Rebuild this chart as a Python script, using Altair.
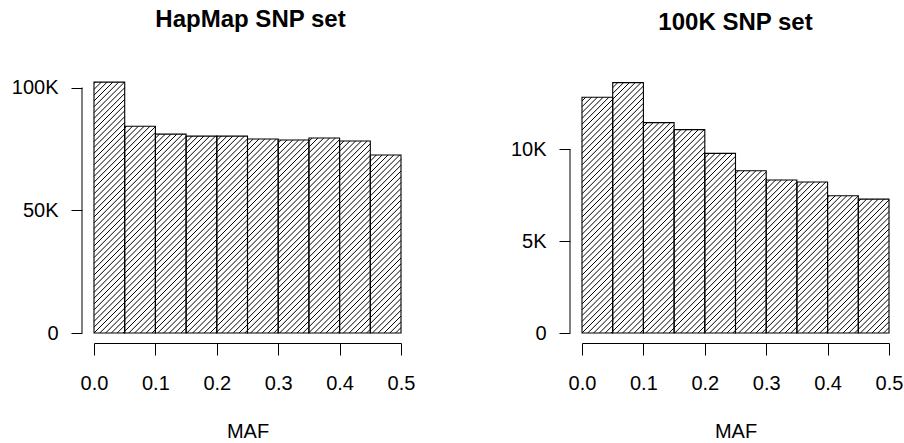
import altair as alt
import pandas as pd

# Histogram bins of minor allele frequency (MAF), width 0.05
bin_edges = [0.0, 0.05, 0.10, 0.15, 0.20, 0.25, 0.30, 0.35, 0.40, 0.45, 0.50]
hapmap_counts = [102200, 84200, 81000, 80200, 80200, 79000, 78600, 79400, 78200, 72500]
k100_counts = [12830, 13630, 11450, 11070, 9780, 8830, 8330, 8220, 7470, 7290]

hapmap_ticks = [0, 50000, 100000]
k100_ticks = [0, 5000, 10000]
x_ticks = [0.0, 0.1, 0.2, 0.3, 0.4, 0.5]

FONT = "Liberation Sans"
W = 307          # plot width in px
H = 252          # plot height in px
HATCH_STEP = 5.8  # horizontal distance between hatch lines, px


def hatch_segments(counts, ymax):
    """45-degree hatch lines clipped to each bar, in data units."""
    kx = W / (bin_edges[-1] - bin_edges[0])
    ky = H / ymax
    segs = []
    for i, c in enumerate(counts):
        u0 = (bin_edges[i] - bin_edges[0]) * kx
        u1 = (bin_edges[i + 1] - bin_edges[0]) * kx
        h = c * ky
        n_lo = int((u0 - h) // HATCH_STEP) - 1
        n_hi = int(u1 // HATCH_STEP) + 1
        for n in range(n_lo, n_hi + 1):
            off = n * HATCH_STEP
            v_lo = max(0.0, u0 - off)
            v_hi = min(h, u1 - off)
            if v_hi - v_lo > 0.3:
                segs.append({
                    "x": (v_lo + off) / kx + bin_edges[0],
                    "x2": (v_hi + off) / kx + bin_edges[0],
                    "y": v_lo / ky,
                    "y2": v_hi / ky,
                })
    return pd.DataFrame(segs)


def panel(title, counts, ticks, px_per_top_tick, title_dx):
    # y domain chosen so that the top tick sits px_per_top_tick above the baseline
    ymax = H / px_per_top_tick * ticks[-1]
    bars = pd.DataFrame({
        "lo": bin_edges[:-1],
        "hi": bin_edges[1:],
        "count": counts,
        "zero": [0] * len(counts),
    })
    xs = alt.Scale(domain=[bin_edges[0], bin_edges[-1]], nice=False, zero=False)
    ys = alt.Scale(domain=[0, ymax], nice=False)

    x_axis = alt.Axis(
        values=x_ticks, format=".1f", title="MAF", grid=False,
        offset=10, tickSize=12, tickColor="black", domainColor="black",
        labelFont=FONT, labelFontSize=20, labelColor="black", labelPadding=18,
        labelFlush=False, labelOverlap=False,
        titleFont=FONT, titleFontSize=20, titleFontWeight="normal",
        titleColor="black", titlePadding=28,
    )
    y_axis = alt.Axis(
        values=ticks, title=None, grid=False, domain=False,
        offset=12, tickSize=11, tickColor="black",
        labelExpr="datum.value == 0 ? '0' : (datum.value / 1000) + 'K'",
        labelFont=FONT, labelFontSize=20, labelColor="black", labelPadding=13,
        labelFlush=False, labelOverlap=False,
    )

    hatch = alt.Chart(hatch_segments(counts, ymax)).mark_rule(
        color="black", strokeWidth=1
    ).encode(
        x=alt.X("x:Q", scale=xs, axis=x_axis),
        x2="x2:Q",
        y=alt.Y("y:Q", scale=ys, axis=y_axis),
        y2="y2:Q",
    )

    outline = alt.Chart(bars).mark_rect(
        fill=None, stroke="black", strokeWidth=1.1
    ).encode(
        x=alt.X("lo:Q", scale=xs),
        x2="hi:Q",
        y=alt.Y("count:Q", scale=ys),
        y2="zero:Q",
    )

    yline = alt.Chart(pd.DataFrame({"lo": [ticks[0]], "hi": [ticks[-1]]})).mark_rule(
        color="black", strokeWidth=1
    ).encode(
        x=alt.value(-12),
        y=alt.Y("lo:Q", scale=ys),
        y2="hi:Q",
    )

    return alt.layer(hatch, outline, yline).properties(
        width=W, height=H,
        title=alt.TitleParams(
            title, font=FONT, fontSize=24, fontWeight="bold", color="black",
            offset=46, anchor="middle", dx=title_dx,
        ),
    )


left = panel("HapMap SNP set", hapmap_counts, hapmap_ticks, 245.5, 3)
right = panel("100K SNP set", k100_counts, k100_ticks, 183.7, 0)

chart = alt.hconcat(left, right, spacing=95).properties(
    padding={"left": 11, "top": 7, "right": 0, "bottom": 0},
    background="white",
).configure_view(stroke=None)

chart.save("out.html", embed_options={"renderer": "svg", "actions": False})
